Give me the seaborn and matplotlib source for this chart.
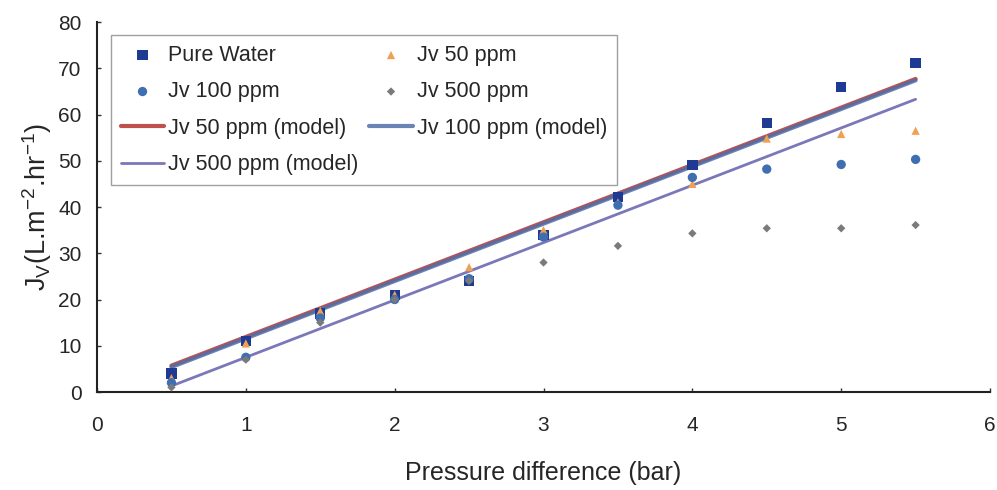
import numpy as np
import pandas as pd
import matplotlib
matplotlib.use("Agg")
import matplotlib.pyplot as plt
import seaborn as sns

# ---- data ----
pressure = [0.5, 1.0, 1.5, 2.0, 2.5, 3.0, 3.5, 4.0, 4.5, 5.0, 5.5]
pure_water = [4.0, 11.0, 17.0, 21.0, 24.0, 34.0, 42.2, 49.1, 58.2, 66.0, 71.2]
jv_50 = [3.0, 10.5, 17.5, 21.0, 27.0, 35.0, 41.0, 45.0, 54.8, 55.8, 56.5]
jv_100 = [2.0, 7.5, 16.0, 20.0, 24.5, 33.5, 40.4, 46.4, 48.2, 49.2, 50.3]
jv_500 = [1.0, 7.0, 15.0, 20.0, 24.0, 28.0, 31.6, 34.3, 35.4, 35.4, 36.1]
jv_50_model = [5.7, 11.9, 18.1, 24.3, 30.5, 36.7, 42.9, 49.1, 55.3, 61.5, 67.7]
jv_100_model = [5.4, 11.6, 17.8, 24.0, 30.2, 36.4, 42.6, 48.8, 55.0, 61.2, 67.4]
jv_500_model = [1.3, 7.5, 13.7, 19.9, 26.1, 32.3, 38.5, 44.7, 50.9, 57.1, 63.3]

xticks = [0, 1, 2, 3, 4, 5, 6]
yticks = [0, 10, 20, 30, 40, 50, 60, 70, 80]

df = pd.DataFrame({
    "x": pressure,
    "pw": pure_water, "j50": jv_50, "j100": jv_100, "j500": jv_500,
    "m50": jv_50_model, "m100": jv_100_model, "m500": jv_500_model,
})

sns.set_style("white")
plt.rcParams["font.family"] = ["Liberation Sans", "DejaVu Sans"]
plt.rcParams["mathtext.fontset"] = "custom"
plt.rcParams["mathtext.rm"] = "Liberation Sans"
plt.rcParams["mathtext.it"] = "Liberation Sans"

fig = plt.figure(figsize=(9.97, 4.90), dpi=100)
ax = fig.add_axes([0.0973, 0.2, 0.8957, 0.755])

# model lines
sns.lineplot(data=df, x="x", y="m50", ax=ax, color="#c0504d", lw=3.0, label="Jv 50 ppm (model)")
sns.lineplot(data=df, x="x", y="m100", ax=ax, color="#4f6fa8", lw=3.0, label="Jv 100 ppm (model)", alpha=0.85)
sns.lineplot(data=df, x="x", y="m500", ax=ax, color="#7a78b8", lw=2.0, label="Jv 500 ppm (model)")

# measured points
sns.scatterplot(data=df, x="x", y="pw", ax=ax, marker="s", s=55, color="#1f3a93",
                edgecolor="none", label="Pure Water", zorder=4)
sns.scatterplot(data=df, x="x", y="j50", ax=ax, marker="^", s=35, color="#f0a050",
                edgecolor="none", label="Jv 50 ppm", zorder=4)
sns.scatterplot(data=df, x="x", y="j100", ax=ax, marker="o", s=45, color="#3f6fb0",
                edgecolor="none", label="Jv 100 ppm", zorder=4)
sns.scatterplot(data=df, x="x", y="j500", ax=ax, marker="D", s=18, color="#7a7a7a",
                edgecolor="none", label="Jv 500 ppm", zorder=4)

ax.set_xlim(0, 6)
ax.set_ylim(0, 80)
ax.set_xticks(xticks)
ax.set_yticks(yticks)
ax.tick_params(axis="both", labelsize=15, direction="in", length=3, width=1,
               color="#333333", left=True, bottom=True)
ax.tick_params(axis="x", pad=17)
ax.tick_params(axis="y", pad=11)
for s in ["top", "right"]:
    ax.spines[s].set_visible(False)
for s in ["left", "bottom"]:
    ax.spines[s].set_color("#222222")
    ax.spines[s].set_linewidth(1.5)

ax.set_xlabel("Pressure difference (bar)", fontsize=18, labelpad=19)
ax.set_ylabel(r"J$_\mathregular{V}$(L.m$^\mathregular{-2}$.hr$^\mathregular{-1}$)", fontsize=19.5, labelpad=3)

handles, labels = ax.get_legend_handles_labels()
hmap = dict(zip(labels, handles))
order = ["Pure Water", "Jv 100 ppm", "Jv 50 ppm (model)", "Jv 500 ppm (model)",
         "Jv 50 ppm", "Jv 500 ppm", "Jv 100 ppm (model)"]
leg = ax.legend([hmap[o] for o in order], order, ncol=2, loc="upper left",
                bbox_to_anchor=(0.016, 0.965), fontsize=15.5, frameon=True,
                fancybox=False, edgecolor="#888888", handlelength=2.0,
                handletextpad=0.2, columnspacing=0.5, labelspacing=0.72,
                borderpad=0.45, borderaxespad=0.0)
leg.get_frame().set_linewidth(1.0)

fig.savefig("out.png", dpi=100)
